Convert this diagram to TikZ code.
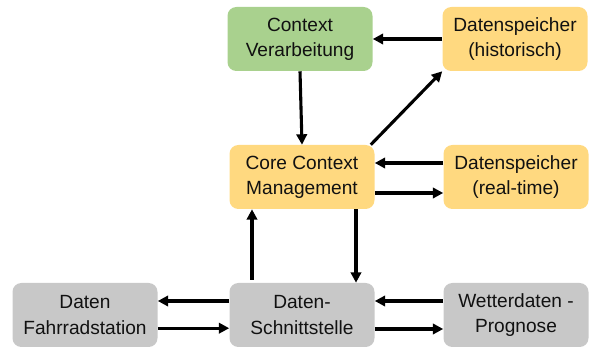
\documentclass[tikz,border=0pt]{standalone}
\usepackage{fontspec}
\setmainfont{Liberation Sans}
\usepackage{tikz}
\usepackage{xcolor}
\usetikzlibrary{arrows.meta,positioning,calc}
\definecolor{Ink}{HTML}{111111}
\definecolor{CtxGreen}{HTML}{A9D18E}
\definecolor{StoreGold}{HTML}{FFD980}
\definecolor{IfcGray}{HTML}{C8C8C8}

\begin{document}
\begin{tikzpicture}[
  box/.style={rounded corners=2.2mm,minimum width=3.625cm,minimum height=1.6cm,
    align=center,inner sep=2pt,font=\fontsize{13.6}{18}\selectfont},
  green/.style={box,fill=CtxGreen},
  gold/.style={box,fill=StoreGold},
  gray/.style={box,fill=IfcGray},
  arr/.style={-{Triangle[length=2.6mm,width=2.6mm]},line width=2.2pt,draw=black},
  every node/.style={text=Ink}]
  \useasboundingbox (0,0) rectangle (14.75,8.725);
  % top row
  \node[green] (ctx) at (7.5,7.75) {Context\\Verarbeitung};
  \node[gold] (hist) at (12.875,7.75) {Datenspeicher\\(historisch)};
  % middle row
  \node[gold] (core) at (7.55,4.3) {Core Context\\Management};
  \node[gold] (rt) at (12.9,4.3) {Datenspeicher\\(real-time)};
  % bottom row
  \node[gray] (rad) at (2.125,0.85) {Daten\\Fahrradstation};
  \node[gray] (ifc) at (7.55,0.85) {Daten-\\Schnittstelle};
  \node[gray] (wet) at (12.9,0.85) {Wetterdaten -\\Prognose};

  \draw[arr] (hist.west) -- (ctx.east);
  \draw[arr] (ctx.south) -- (core.north);
  \draw[arr] ([xshift=-1mm]core.north east) -- (hist.south west);
  \draw[arr] ([yshift=3.5mm]rt.west) -- ([yshift=3.5mm]core.east);
  \draw[arr] ([yshift=-4mm]core.east) -- ([yshift=-4mm]rt.west);
  \draw[arr] ([xshift=-12.5mm,yshift=0.8mm]ifc.north) -- ([xshift=-12.5mm]core.south);
  \draw[arr] ([xshift=13.5mm]core.south) -- ([xshift=13.5mm]ifc.north);
  \draw[arr] ([yshift=3.5mm]ifc.west) -- ([yshift=3.5mm]rad.east);
  \draw[arr] ([yshift=-3.3mm]rad.east) -- ([yshift=-3.3mm]ifc.west);
  \draw[arr] ([yshift=3.5mm]wet.west) -- ([yshift=3.5mm]ifc.east);
  \draw[arr] ([yshift=-3.5mm]ifc.east) -- ([yshift=-3.5mm]wet.west);
\end{tikzpicture}
\end{document}
